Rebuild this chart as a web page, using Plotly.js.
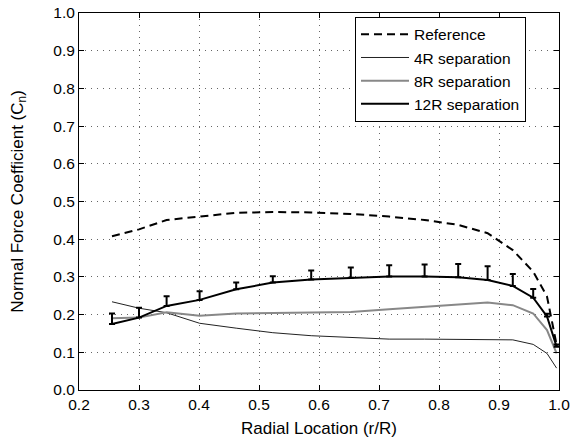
<!DOCTYPE html>
<html>
<head>
<script src="https://cdn.plot.ly/plotly-3.0.1.min.js"></script>
<style>html,body{margin:0;padding:0;background:#fff;}#chart{width:585px;height:448px;}</style>
</head>
<body>
<div id="chart"></div>
<script>
const radialLocation = [0.255, 0.300, 0.346, 0.401, 0.462, 0.523, 0.587, 0.653, 0.717, 0.776, 0.832, 0.881, 0.923, 0.957, 0.980, 0.996];
const referenceCn = [0.408, 0.426, 0.451, 0.460, 0.470, 0.472, 0.471, 0.467, 0.460, 0.451, 0.438, 0.416, 0.371, 0.314, 0.248, 0.120];
const sep4R = [0.234, 0.217, 0.205, 0.177, 0.164, 0.152, 0.144, 0.139, 0.135, 0.135, 0.135, 0.135, 0.133, 0.121, 0.097, 0.058];
const sep8R = [0.190, 0.192, 0.206, 0.197, 0.203, 0.204, 0.205, 0.207, 0.214, 0.221, 0.228, 0.232, 0.225, 0.203, 0.159, 0.097];
const sep12R = [0.175, 0.192, 0.223, 0.239, 0.267, 0.285, 0.293, 0.298, 0.301, 0.301, 0.299, 0.292, 0.276, 0.245, 0.195, 0.115];
const sep12RUpper = [0.203, 0.218, 0.249, 0.262, 0.285, 0.302, 0.317, 0.325, 0.331, 0.333, 0.334, 0.328, 0.308, 0.268, 0.202, 0.121];
const xTicks = [0.2, 0.3, 0.4, 0.5, 0.6, 0.7, 0.8, 0.9, 1.0];
const yTicks = [0.0, 0.1, 0.2, 0.3, 0.4, 0.5, 0.6, 0.7, 0.8, 0.9, 1.0];

const errPlus = sep12R.map((v, i) => sep12RUpper[i] - v);
const errMinus = sep12R.map(() => 0);

const traces = [
  {x: radialLocation, y: referenceCn, mode: 'lines', name: 'Reference',
   line: {color: '#000', width: 2, dash: '8px,5px'}},
  {x: radialLocation, y: sep4R, mode: 'lines', name: '4R separation',
   line: {color: '#222', width: 1}},
  {x: radialLocation, y: sep8R, mode: 'lines', name: '8R separation',
   line: {color: '#888', width: 2}},
  {x: radialLocation, y: sep12R, mode: 'lines', name: '12R separation',
   line: {color: '#000', width: 2},
   error_y: {type: 'data', symmetric: false, array: errPlus, arrayminus: errMinus,
             color: '#000', thickness: 2, width: 3}}
];

const FONT = 'Liberation Sans, Arial, sans-serif';
const axisCommon = {
  showline: true, linecolor: '#000', linewidth: 1, mirror: 'ticks',
  ticks: 'inside', ticklen: 5, tickcolor: '#000',
  showgrid: true, gridcolor: '#666', griddash: '1px,5px', gridwidth: 1,
  zeroline: false, tickformat: '.1f',
  tickfont: {family: FONT, size: 15.5, color: '#000'}
};

const layout = {
  width: 585, height: 448,
  margin: {l: 79, r: 26, t: 13, b: 58},
  paper_bgcolor: '#fff', plot_bgcolor: '#fff',
  font: {family: FONT, color: '#000', size: 15.5},
  showlegend: true,
  xaxis: Object.assign({}, axisCommon, {
    range: [0.2, 1.0], tickvals: xTicks,
    title: {text: 'Radial Location (r/R)', font: {family: FONT, size: 17}, standoff: 10}
  }),
  yaxis: Object.assign({}, axisCommon, {
    range: [0, 1.0], tickvals: yTicks,
    title: {text: 'Normal Force Coefficient (C<sub>n</sub>)', font: {family: FONT, size: 17}, standoff: 25}
  }),
  legend: {
    x: 0.575, y: 0.99, xanchor: 'left', yanchor: 'top',
    bgcolor: '#fff', bordercolor: '#000', borderwidth: 1,
    font: {family: FONT, size: 15.5}, tracegroupgap: 0, itemwidth: 48
  }
};

Plotly.newPlot('chart', traces, layout, {displayModeBar: false, staticPlot: true});
</script>
</body>
</html>
